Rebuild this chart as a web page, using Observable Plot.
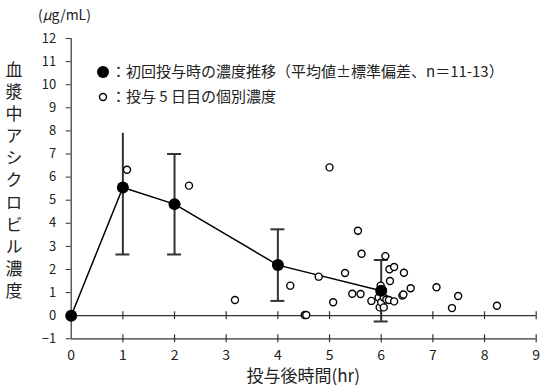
<!DOCTYPE html>
<html>
<head>
<meta charset="utf-8">
<script src="https://cdn.jsdelivr.net/npm/d3@7"></script>
<script src="https://cdn.jsdelivr.net/npm/@observablehq/plot@0.6"></script>
<style>
  html, body { margin: 0; padding: 0; background: #fff; }
  svg { display: block; }
</style>
</head>
<body>
<div id="chart"></div>
<script>
// ---- data ----
const meanTimes = [0, 1, 2, 4, 6];
const meanConc  = [0, 5.55, 4.83, 2.19, 1.08];
const sdUpper   = [null, 7.9, 7.0, 3.74, 2.41];
const sdLower   = [null, 2.65, 2.65, 0.64, -0.25];
const topCap    = [false, false, true, true, true];

const indivTimes = [1.08, 2.28, 3.17, 4.24, 4.52, 4.55, 4.79, 5.00, 5.07, 5.30, 5.44, 5.55, 5.60, 5.62, 5.81,
                    5.95, 5.97, 5.99, 6.00, 6.03, 6.05, 6.05, 6.08, 6.10, 6.15, 6.16, 6.17, 6.25, 6.25,
                    6.41, 6.43, 6.44, 6.57, 7.07, 7.37, 7.49, 8.24];
const indivConc  = [6.32, 5.63, 0.68, 1.30, 0.03, 0.03, 1.69, 6.42, 0.58, 1.85, 0.95, 3.68, 0.94, 2.68, 0.64,
                    0.79, 0.36, 1.30, 0.58, 1.10, 0.79, 0.36, 2.58, 0.70, 0.68, 2.01, 1.50, 2.11, 0.62,
                    0.87, 0.92, 1.86, 1.19, 1.23, 0.33, 0.85, 0.43];

const xTicks = [0,1,2,3,4,5,6,7,8,9];
const yTicks = [-1,0,1,2,3,4,5,6,7,8,9,10,11,12];
const yTitle = "血漿中アシクロビル濃度";
const xTitle = "投与後時間(hr)";
const legendMean = "：初回投与時の濃度推移（平均値±標準偏差、n＝11-13）";
const legendIndiv = "：投与 5 日目の個別濃度";

// ---- tables ----
const means = meanTimes.map((t, i) => ({t, c: meanConc[i], hi: sdUpper[i], lo: sdLower[i], cap: topCap[i]}));
const bars = means.filter(d => d.hi != null);
const indiv = indivTimes.map((t, i) => ({t, c: indivConc[i]}));
const capW = 0.135;
const tickH = 0.17;

const font = "'Noto Sans CJK JP', 'Noto Sans', sans-serif";
const axisColor = "#333";

const W = 545, H = 388;
const mL = 70.7, mR = 9.3, mT = 38, mB = 49.7;

const chart = Plot.plot({
  width: W, height: H,
  marginLeft: mL, marginRight: mR, marginTop: mT, marginBottom: mB,
  style: {fontFamily: font, background: "#fff", color: "#222"},
  x: {domain: [0, 9], ticks: xTicks},
  y: {domain: [-1, 12], ticks: yTicks},
  marks: [
    Plot.axisY({ticks: yTicks, tickSize: 5, tickPadding: 10, label: null, fontSize: 13, stroke: axisColor}),
    Plot.axisX({ticks: xTicks, tickSize: 0, tickPadding: 11, label: null, fontSize: 14}),
    Plot.ruleX([0], {stroke: axisColor, strokeWidth: 1.2}),
    Plot.ruleY([0, -1], {stroke: axisColor, strokeWidth: 1.2}),
    Plot.ruleX(xTicks.filter(d => d > 0), {x: d => d, y1: -tickH, y2: tickH, stroke: axisColor, strokeWidth: 1.2}),
    Plot.ruleX(xTicks.filter(d => d > 0), {x: d => d, y1: -1 - tickH, y2: -1 + tickH, stroke: axisColor, strokeWidth: 1.2}),
    // error bars
    Plot.ruleX(bars, {x: "t", y1: "lo", y2: "hi", stroke: "#333", strokeWidth: 2}),
    Plot.ruleY(bars, {y: "lo", x1: d => d.t - capW, x2: d => d.t + capW, stroke: "#333", strokeWidth: 2}),
    Plot.ruleY(bars.filter(d => d.cap), {y: "hi", x1: d => d.t - capW, x2: d => d.t + capW, stroke: "#333", strokeWidth: 2}),
    // mean line
    Plot.line(means, {x: "t", y: "c", stroke: "#000", strokeWidth: 1.5}),
    // individual concentrations
    Plot.dot(indiv, {x: "t", y: "c", r: 3.5, stroke: "#000", strokeWidth: 1.4, fill: "#fff"}),
    // means
    Plot.dot(means, {x: "t", y: "c", r: 6, fill: "#000", stroke: "none"})
  ]
});

const svg = d3.select(chart);
// unit label
const u = svg.append("text").attr("x", 38).attr("y", 20).attr("text-anchor", "start")
  .attr("font-size", 14).attr("font-family", font).attr("fill", "#222");
u.append("tspan").text("(");
u.append("tspan").attr("font-style", "italic").text("μ");
u.append("tspan").text("g/mL)");

// vertical y title (single text, vertical writing mode)
svg.append("text")
  .attr("x", 14).attr("y", 61)
  .attr("text-anchor", "start")
  .attr("font-size", 17).attr("font-family", font).attr("fill", "#222")
  .style("writing-mode", "vertical-rl")
  .style("text-orientation", "upright")
  .style("letter-spacing", "5.1px")
  .text(yTitle);

// x title
svg.append("text").attr("x", (mL + W - mR) / 2).attr("y", 382).attr("text-anchor", "middle")
  .attr("font-size", 17).attr("font-family", font).attr("fill", "#222").text(xTitle);

// legend
const lg = svg.append("g").attr("font-family", font).attr("font-size", 15).attr("fill", "#222").attr("text-anchor", "start");
lg.append("circle").attr("cx", 103).attr("cy", 72).attr("r", 6).attr("fill", "#000");
lg.append("text").attr("x", 111).attr("y", 72).attr("dy", "0.36em").text(legendMean);
lg.append("circle").attr("cx", 103).attr("cy", 97).attr("r", 3.5).attr("fill", "#fff").attr("stroke", "#000").attr("stroke-width", 1.4);
lg.append("text").attr("x", 111).attr("y", 97).attr("dy", "0.36em").text(legendIndiv);

document.getElementById("chart").appendChild(chart);
</script>
</body>
</html>
